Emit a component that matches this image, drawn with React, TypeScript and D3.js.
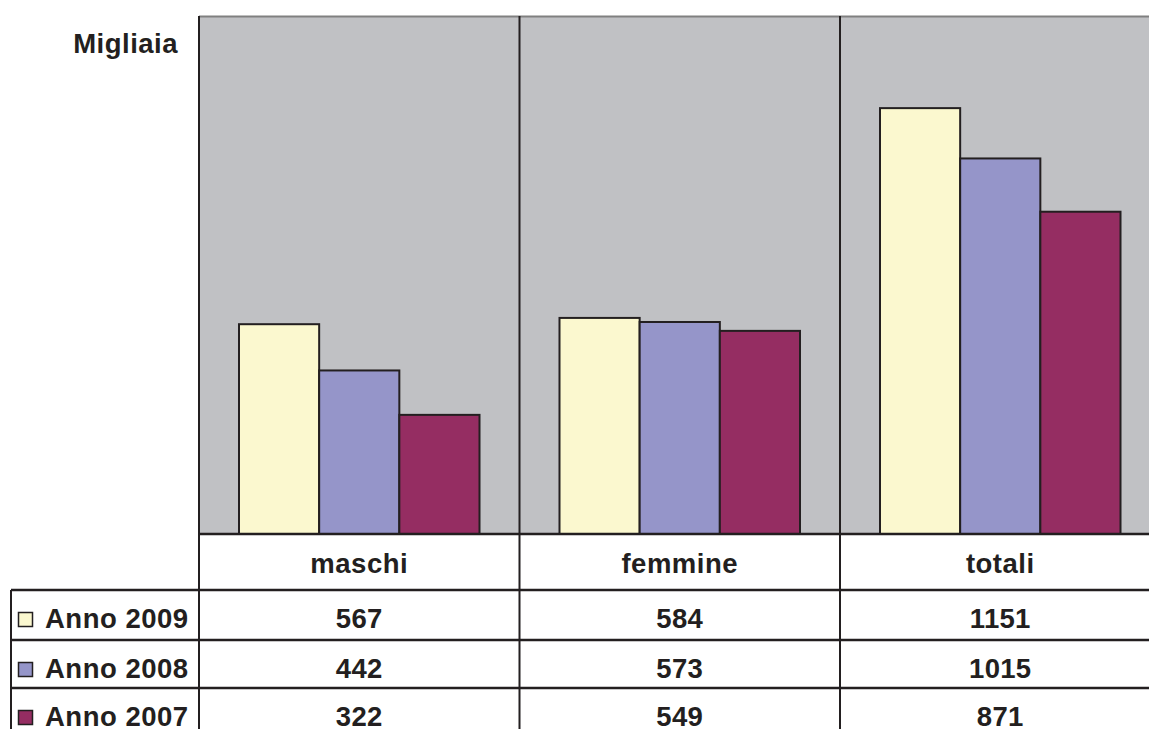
import * as React from 'react';
import * as d3 from 'd3';

const categories = ['maschi', 'femmine', 'totali'];
const seriesNames = ['Anno 2009', 'Anno 2008', 'Anno 2007'];
const anno2009 = [567, 584, 1151];
const anno2008 = [442, 573, 1015];
const anno2007 = [322, 549, 871];
const seriesValues = [anno2009, anno2008, anno2007];
const seriesColors = ['#FBF8CF', '#9595C9', '#952D62'];
const unitLabel = 'Migliaia';

const W = 1149;
const H = 729;
const ink = '#231F20';
const font = '"Liberation Sans", Arial, sans-serif';

const App: React.FunctionComponent = () => {
    const plotLeft = 199;
    const plotTop = 16;
    const plotBottom = 534;
    const colW = 320.5;
    const rowTops = [590, 640, 688];
    const legendLeft = 11;

    const x = d3.scaleBand<string>().domain(categories).range([plotLeft, plotLeft + colW * categories.length]);
    const xInner = d3.scaleBand<string>().domain(seriesNames).range([40, colW - 40]);
    const y = d3.scaleLinear().domain([0, 1400]).range([plotBottom, plotTop]);

    return (
        <svg width={W} height={H} style={{ position: 'absolute', left: 0, top: 0, background: '#fff' }}
            fontFamily={font} fontWeight="bold" fill={ink}>
            <rect x={plotLeft} y={plotTop} width={W - plotLeft} height={plotBottom - plotTop} fill="#C0C1C4" />
            <line x1={plotLeft} x2={W} y1={plotTop + 0.5} y2={plotTop + 0.5} stroke="#808080" strokeWidth={2} />

            {seriesNames.map((s, si) => (
                <g key={s}>
                    {categories.map((c, ci) => {
                        const v = seriesValues[si][ci];
                        const bx = (x(c) as number) + (xInner(s) as number);
                        return (
                            <rect key={c} x={bx} y={y(v)} width={xInner.bandwidth()} height={plotBottom - y(v)}
                                fill={seriesColors[si]} stroke={ink} strokeWidth={2} />
                        );
                    })}
                </g>
            ))}

            {/* grid lines of the plot and data table */}
            <line x1={plotLeft} x2={plotLeft} y1={plotTop} y2={H} stroke={ink} strokeWidth={2} />
            {categories.slice(1).map(c => (
                <line key={c} x1={x(c)} x2={x(c)} y1={plotTop} y2={H} stroke={ink} strokeWidth={2} />
            ))}
            <line x1={plotLeft} x2={W} y1={plotBottom} y2={plotBottom} stroke={ink} strokeWidth={2.5} />
            {rowTops.map(ry => (
                <line key={ry} x1={legendLeft} x2={W} y1={ry} y2={ry} stroke={ink} strokeWidth={2.5} />
            ))}
            <line x1={legendLeft} x2={legendLeft} y1={rowTops[0]} y2={H} stroke={ink} strokeWidth={2} />

            <text x={178} y={53} fontSize={27.5} textAnchor="end" letterSpacing={0.5}>{unitLabel}</text>

            {categories.map(c => (
                <text key={c} x={(x(c) as number) + colW / 2} y={573} fontSize={27.5} textAnchor="middle" letterSpacing={0.5}>{c}</text>
            ))}

            {seriesNames.map((s, si) => {
                const ry = rowTops[si];
                return (
                    <g key={s}>
                        <rect x={18.5} y={ry + 22.5} width={14} height={14} fill={seriesColors[si]} stroke={ink} strokeWidth={1.5} />
                        <text x={45} y={ry + 38} fontSize={27.5} letterSpacing={0.5}>{s}</text>
                        {categories.map((c, ci) => (
                            <text key={c} x={(x(c) as number) + colW / 2} y={ry + 38} fontSize={27.5}
                                textAnchor="middle" letterSpacing={0.3}>{seriesValues[si][ci]}</text>
                        ))}
                    </g>
                );
            })}
        </svg>
    );
};

export default App;
